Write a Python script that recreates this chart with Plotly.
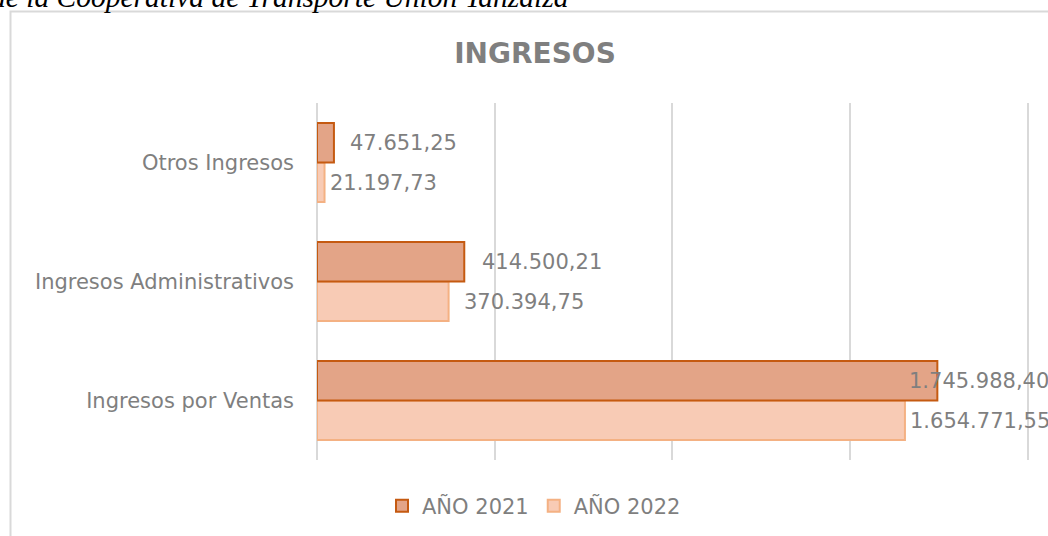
import plotly.graph_objects as go

categorias = ["Ingresos por Ventas", "Ingresos Administrativos", "Otros Ingresos"]
anio_2021 = [1745988.40, 414500.21, 47651.25]
anio_2022 = [1654771.55, 370394.75, 21197.73]
etiquetas_2021 = ["1.745.988,40", "414.500,21", "47.651,25"]
etiquetas_2022 = ["1.654.771,55", "370.394,75", "21.197,73"]
ticks_x = [0, 500000, 1000000, 1500000, 2000000]

W, H = 1048, 536
ML, MT = 317, 103
MB = H - 460
MR = 0
PW, PH = W - ML - MR, H - MT - MB


def px_x(p):
    # p en pixeles de la página
    return (p - ML) / PW


def px_y(p):
    return (H - MB - p) / PH


gris = "#7f7f7f"
fuente = "DejaVu Sans"

fig = go.Figure()
fig.add_trace(go.Bar(
    y=categorias, x=anio_2022, orientation="h", name="AÑO 2022",
    marker=dict(color="#f8cbb5", line=dict(color="#f4b183", width=2)),
    legendrank=2,
))
fig.add_trace(go.Bar(
    y=categorias, x=anio_2021, orientation="h", name="AÑO 2021",
    marker=dict(color="#e3a487", line=dict(color="#c55a11", width=2)),
    legendrank=1,
))

# etiquetas de datos (la de ventas 2021 se corre a la izquierda como en Excel)
limite = 1660000
desp_2021 = [0, 16, 14]
desp_2022 = [3, 13, 3]
for i, cat in enumerate(categorias):
    fig.add_annotation(x=min(anio_2021[i], limite), y=cat, text=etiquetas_2021[i],
                       xanchor="left", yanchor="middle", showarrow=False,
                       xshift=desp_2021[i], yshift=20,
                       font=dict(family=fuente, size=21, color=gris))
    fig.add_annotation(x=min(anio_2022[i], limite), y=cat, text=etiquetas_2022[i],
                       xanchor="left", yanchor="middle", showarrow=False,
                       xshift=desp_2022[i], yshift=-20,
                       font=dict(family=fuente, size=21, color=gris))

# texto cortado de arriba (en la imagen original sólo se ve la parte de abajo)
fig.add_annotation(xref="paper", yref="paper", x=px_x(-11), y=px_y(15),
                   xanchor="left", yanchor="bottom", showarrow=False,
                   text="<i>de la Cooperativa de Transporte Unión Yanzaiza</i>",
                   font=dict(family="Liberation Serif", size=29.5, color="black"))

# borde del gráfico
fig.add_shape(type="rect", xref="paper", yref="paper",
              x0=px_x(10.5), x1=px_x(1070), y0=px_y(11.5), y1=px_y(560),
              line=dict(color="#d9d9d9", width=2), layer="below")

fig.update_layout(
    width=W, height=H,
    margin=dict(l=ML, r=MR, t=MT, b=MB),
    paper_bgcolor="white", plot_bgcolor="white",
    barmode="group", bargap=0.335, bargroupgap=0,
    title=dict(text="<b>INGRESOS</b>", x=535 / W, xanchor="center",
               y=1 - 53 / H, yanchor="middle",
               font=dict(family=fuente, size=28, color=gris)),
    xaxis=dict(range=[0, PW / 355.3 * 1e6], tickvals=ticks_x, showticklabels=False,
               showgrid=True, gridcolor="#d9d9d9", gridwidth=2,
               zeroline=True, zerolinecolor="#d9d9d9", zerolinewidth=2,
               showline=False),
    yaxis=dict(showgrid=False, showline=False, ticks="", ticklabelstandoff=22,
               tickfont=dict(family=fuente, size=21, color=gris)),
    legend=dict(orientation="h", xref="container", yref="container",
                x=534 / W, xanchor="center", y=1 - 506 / H,
                yanchor="middle",
                font=dict(family=fuente, size=21, color=gris)),
    showlegend=True,
)

# sin margen en el body para que el gráfico empiece en la esquina
fig.write_html("out.html", config={"displayModeBar": False},
               post_script="document.body.style.margin = '0';")
